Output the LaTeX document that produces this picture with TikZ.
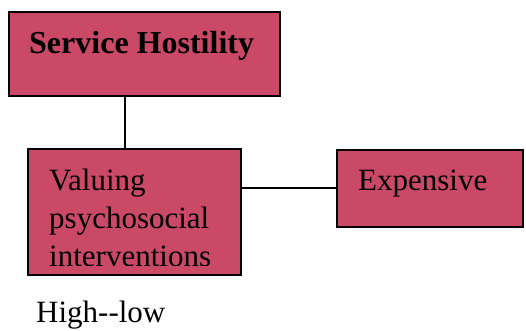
\documentclass[tikz,border=0pt]{standalone}
\usepackage{fontspec}
\setmainfont{Liberation Serif}
\definecolor{boxpink}{RGB}{201,73,103}
\tikzset{
  factor/.style={draw,line width=2pt,fill=boxpink,rectangle,inner sep=0pt},
  lbl/.style={font=\fontsize{31}{38}\selectfont,inner sep=0pt},
  link/.style={line width=2pt}
}
\begin{document}
\begin{tikzpicture}[x=1pt,y=1pt]
  \useasboundingbox (0,0) rectangle (526,331);
  % Boxes
  \node[factor,minimum width=271,minimum height=84] (hostility) at (144.5,277) {};
  \node[factor,minimum width=213,minimum height=126] (valuing) at (134.5,119) {};
  \node[factor,minimum width=186,minimum height=77] (expensive) at (430,142.5) {};
  % Labels
  \node[lbl,anchor=base west,font=\fontsize{32}{38}\selectfont\bfseries] (hostility-t)
    at ([shift={(21,-43)}]hostility.north west) {Service Hostility};
  \begin{scope}
    \clip ([shift={(1,10)}]valuing.south west) rectangle (valuing.north east);
    \node[lbl,anchor=base west] (valuing-t)
      at ([shift={(22,-43)}]valuing.north west)
      {\vtop{\hbox{Valuing}\hbox{psychosocial}\hbox{interventions}}};
  \end{scope}
  \node[lbl,anchor=base west] (expensive-t)
    at ([shift={(22,-42)}]expensive.north west) {Expensive};
  % Connectors
  \draw[link] ([xshift=-9.5]valuing.north) -- ([xshift=-9.5]valuing.north |- hostility.south);
  \draw[link] (valuing.east |- expensive.west) -- (expensive.west);
  % Scale
  \node[lbl,anchor=base west] (scale) at (36,8) {High-{}-low};
\end{tikzpicture}
\end{document}
